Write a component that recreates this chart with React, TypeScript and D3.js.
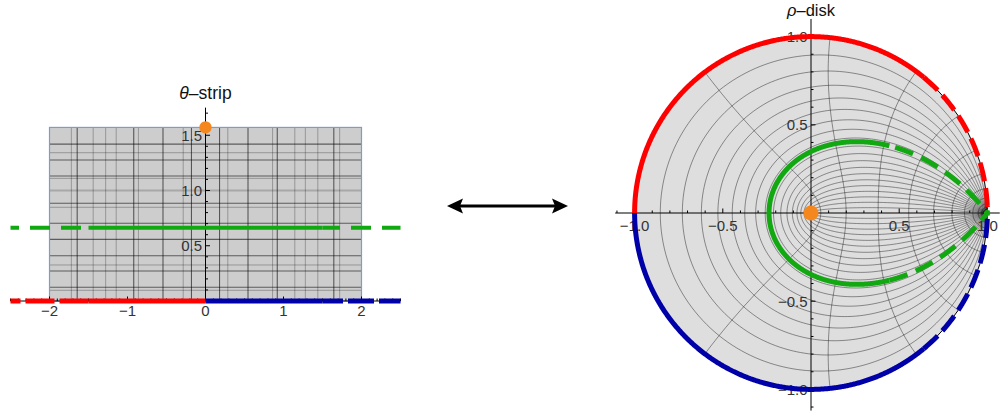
import React from "react";
import * as d3 from "d3";

// ---------- data ----------
const stripXTicks = [-2, -1, 0, 1, 2];
const stripYTicks = [0.5, 1.0, 1.5];
const diskXTicks = [-1, -0.5, 0.5, 1];
const diskYTicks = [-1, -0.5, 0.5, 1];
const stripMeshXDark = [-1.645, -0.92, -0.545, -0.18, 0.18, 0.545, 0.92, 1.645];
const stripMeshXLight = [-1.72, -1.44, -1.28, -1.145, -0.86, -0.286, 0.286, 0.86, 1.145, 1.28, 1.44, 1.72];
const stripMeshYDark = [1.42, 1.276, 1.131, 0.884, 0.703, 0.558, 0.41, 0.271, 0.124];
const stripMeshYLight = [1.342, 1.11, 0.848, 0.326, 0.097];
const stripMeshYGrid = [1.0];
const greenLevel = 0.663;
const solidHalf = 1.5;
const stripXHalfRange = 2.5;
const stripRectHalf = 2;
const diskMeshYDivisions = 40; // y = k*pi/40
const diskMeshXStep = 0.48;
const diskMeshXCount = 25;
const farX = 12;

const FONT = "'Liberation Sans', Arial, Helvetica, sans-serif";

// rho(theta) = -(1 + i sinh theta)/(1 - i sinh theta)
function rho(x: number, y: number): [number, number] {
  const wr = Math.sinh(x) * Math.cos(y);
  const wi = Math.cosh(x) * Math.sin(y);
  const a = 1 - wi, b = wr, c = 1 + wi, d = -wr;
  const den = c * c + d * d;
  const re = (a * c + b * d) / den;
  const im = (b * c - a * d) / den;
  return [-re, -im];
}

export default function App() {
  const sx = d3.scaleLinear().domain([-2, 2]).range([49.5, 361.5]);
  const sy = d3.scaleLinear().domain([0, 1]).range([301, 190.5]);
  const dx = d3.scaleLinear().domain([-1, 1]).range([634.6, 987.4]);
  const dy = d3.scaleLinear().domain([-1, 1]).range([389.4, 36.6]);

  const diskLine = d3
    .line<[number, number]>()
    .x((p) => dx(p[0]))
    .y((p) => dy(p[1]));
  const stripLine = d3
    .line<[number, number]>()
    .x((p) => sx(p[0]))
    .y((p) => sy(p[1]));

  const alongX = (x0: number, x1: number, y: number, n: number) =>
    d3.range(n + 1).map((i) => rho(x0 + ((x1 - x0) * i) / n, y));
  const alongY = (x: number, n: number) =>
    d3.range(n + 1).map((i) => rho(x, ((Math.PI / 2) * i) / n));

  const meshY = d3.range(1, diskMeshYDivisions / 2).map((k) => (k * Math.PI) / diskMeshYDivisions);
  const meshX = d3
    .range(1, diskMeshXCount + 1)
    .flatMap((k) => [k * diskMeshXStep, -k * diskMeshXStep]);

  const topY = Math.PI / 2;
  const meshStroke = "rgba(0,0,0,0.45)";

  const stripYMinor = d3.range(1, 18).map((i) => i / 10);
  const stripXMinor = d3.range(-25, 26).map((i) => i / 10);
  const diskMinor = d3.range(-11, 11).map((i) => i / 10).filter((v) => Math.abs(v) > 1e-9);

  const red = "#ff0000";
  const blue = "#0000a8";
  const green = "#12a812";
  const orange = "#f5871f";
  const tickFont = 15;

  return (
    <svg
      width={1000}
      height={414}
      style={{ position: "absolute", left: 0, top: 0, background: "#fff" }}
      fontFamily={FONT}
    >
      {/* ---------------- STRIP ---------------- */}
      <rect
        x={sx(-stripRectHalf)}
        y={sy(topY)}
        width={sx(stripRectHalf) - sx(-stripRectHalf)}
        height={sy(0) - sy(topY)}
        fill="#cdcdcd"
      />
      {stripMeshYGrid.map((v) => (
        <line key={"g" + v} x1={sx(-stripRectHalf)} x2={sx(stripRectHalf)} y1={sy(v)} y2={sy(v)} stroke="rgba(0,0,0,0.18)" strokeWidth={2.2} />
      ))}
      {stripMeshXLight.map((v) => (
        <line key={"xl" + v} x1={sx(v)} x2={sx(v)} y1={sy(0)} y2={sy(topY)} stroke="rgba(0,0,0,0.27)" strokeWidth={1} />
      ))}
      {stripMeshXDark.map((v) => (
        <line key={"xd" + v} x1={sx(v)} x2={sx(v)} y1={sy(0)} y2={sy(topY)} stroke="rgba(0,0,0,0.58)" strokeWidth={1.1} />
      ))}
      {stripMeshYLight.map((v) => (
        <line key={"yl" + v} x1={sx(-stripRectHalf)} x2={sx(stripRectHalf)} y1={sy(v)} y2={sy(v)} stroke="rgba(0,0,0,0.27)" strokeWidth={1} />
      ))}
      {stripMeshYDark.map((v) => (
        <line key={"yd" + v} x1={sx(-stripRectHalf)} x2={sx(stripRectHalf)} y1={sy(v)} y2={sy(v)} stroke="rgba(0,0,0,0.55)" strokeWidth={1.1} />
      ))}
      <rect
        x={sx(-stripRectHalf)}
        y={sy(topY)}
        width={sx(stripRectHalf) - sx(-stripRectHalf)}
        height={sy(0) - sy(topY)}
        fill="none"
        stroke="#7d9bcb"
        strokeWidth={1.2}
      />
      {/* strip axes */}
      <line x1={sx(0)} x2={sx(0)} y1={sy(0)} y2={sy(1.75)} stroke="#000" strokeWidth={1} />
      <line x1={sx(-stripXHalfRange)} x2={sx(stripXHalfRange)} y1={sy(0)} y2={sy(0)} stroke="#000" strokeWidth={1} />
      {stripYMinor.map((v) => (
        <line key={"syt" + v} x1={sx(0)} x2={sx(0) + (Math.abs(v * 2 - Math.round(v * 2)) < 1e-6 ? 4.5 : 2.5)} y1={sy(v)} y2={sy(v)} stroke="#000" strokeWidth={1} />
      ))}
      {stripXMinor.map((v) => (
        <line key={"sxt" + v} x1={sx(v)} x2={sx(v)} y1={sy(0)} y2={sy(0) - (Math.abs(v - Math.round(v)) < 1e-6 ? 4.5 : 2.5)} stroke="#000" strokeWidth={1} />
      ))}
      {stripYTicks.map((v) => (
        <text key={"syl" + v} x={sx(0) - 3.5} y={sy(v) + 5.3} fontSize={tickFont} textAnchor="end" fill="#333">
          {v.toFixed(1)}
        </text>
      ))}
      {stripXTicks.map((v) => (
        <text key={"sxl" + v} x={sx(v)} y={316} fontSize={tickFont} textAnchor="middle" fill="#333">
          {v < 0 ? "\u2212" + Math.abs(v) : String(v)}
        </text>
      ))}
      <text x={sx(0)} y={99} fontSize={17.5} textAnchor="middle" fill="#111">
        <tspan fontStyle="italic">θ</tspan>
        <tspan>{"\u2013strip"}</tspan>
      </text>

      {/* strip curves */}
      <path
        d={stripLine([[-solidHalf, greenLevel], [-stripXHalfRange, greenLevel]])!}
        fill="none" stroke={green} strokeWidth={4.2} strokeDasharray="20 11" strokeDashoffset={23.5}
      />
      <path
        d={stripLine([[solidHalf, greenLevel], [stripXHalfRange, greenLevel]])!}
        fill="none" stroke={green} strokeWidth={4.2} strokeDasharray="20 11" strokeDashoffset={2.5}
      />
      <path d={stripLine([[-solidHalf, greenLevel], [solidHalf, greenLevel]])!} fill="none" stroke={green} strokeWidth={4.2} />

      <path d={stripLine([[-solidHalf, 0], [-stripXHalfRange, 0]])!} fill="none" stroke={red} strokeWidth={5} strokeDasharray="29 5" />
      <path d={stripLine([[0, 0], [-solidHalf, 0]])!} fill="none" stroke={red} strokeWidth={5} />
      <path d={stripLine([[solidHalf, 0], [stripXHalfRange, 0]])!} fill="none" stroke={blue} strokeWidth={5} strokeDasharray="26 5" strokeDashoffset={5.5} />
      <path d={stripLine([[0, 0], [solidHalf, 0]])!} fill="none" stroke={blue} strokeWidth={5} />
      <circle cx={sx(0)} cy={sy(topY)} r={6.2} fill={orange} />

      {/* ---------------- ARROW ---------------- */}
      <line x1={460} x2={555} y1={206} y2={206} stroke="#000" strokeWidth={3} />
      <polygon points="447,206 463,198.5 460,206 463,213.5" fill="#000" />
      <polygon points="568,206 552,198.5 555,206 552,213.5" fill="#000" />

      {/* ---------------- DISK ---------------- */}
      <circle cx={dx(0)} cy={dy(0)} r={dx(1) - dx(0)} fill="#dedede" />
      {meshY.map((y) => (
        <path key={"my" + y} d={diskLine(alongX(-farX, farX, y, 1200))!} fill="none" stroke={meshStroke} strokeWidth={0.9} />
      ))}
      {meshX.map((x) => (
        <path key={"mx" + x} d={diskLine(alongY(x, 80))!} fill="none" stroke={meshStroke} strokeWidth={0.9} />
      ))}
      <circle cx={dx(0)} cy={dy(0)} r={dx(1) - dx(0)} fill="none" stroke="#000" strokeWidth={1} />
      {/* disk axes */}
      <line x1={dx(-1.11)} x2={dx(1.07)} y1={dy(0)} y2={dy(0)} stroke="#000" strokeWidth={1.2} />
      <line x1={dx(0)} x2={dx(0)} y1={dy(1.1)} y2={dy(-1.12)} stroke="#000" strokeWidth={1} />
      {diskMinor.map((v) => (
        <line key={"dxt" + v} x1={dx(v)} x2={dx(v)} y1={dy(0)} y2={dy(0) - (Math.abs(v * 2 - Math.round(v * 2)) < 1e-6 ? 4.5 : 2.5)} stroke="#000" strokeWidth={1} />
      ))}
      {diskMinor.map((v) => (
        <line key={"dyt" + v} x1={dx(0)} x2={dx(0) + (Math.abs(v * 2 - Math.round(v * 2)) < 1e-6 ? 4.5 : 2.5)} y1={dy(v)} y2={dy(v)} stroke="#000" strokeWidth={1} />
      ))}
      {diskXTicks.map((v) => (
        <text key={"dxl" + v} x={dx(v)} y={dy(0) + 18} fontSize={tickFont} textAnchor="middle" fill="#333">
          {(v < 0 ? "\u2212" : "") + Math.abs(v).toFixed(1)}
        </text>
      ))}
      {diskYTicks.map((v) => (
        <text key={"dyl" + v} x={dx(0) - 3.5} y={dy(v) + 5.3} fontSize={tickFont} textAnchor="end" fill="#333">
          {(v < 0 ? "\u2212" : "") + Math.abs(v).toFixed(1)}
        </text>
      ))}
      <text x={dx(0)} y={15.5} fontSize={16.5} textAnchor="middle" fill="#111">
        <tspan fontStyle="italic">ρ</tspan>
        <tspan>{"\u2013disk"}</tspan>
      </text>

      {/* disk curves */}
      <path d={diskLine(alongX(-solidHalf, -farX, greenLevel, 1500))!} fill="none" stroke={green} strokeWidth={5} strokeDasharray="19 9" strokeDashoffset={22} />
      <path d={diskLine(alongX(solidHalf, farX, greenLevel, 1500))!} fill="none" stroke={green} strokeWidth={5} strokeDasharray="19 9" />
      <path d={diskLine(alongX(-solidHalf, solidHalf, greenLevel, 600))!} fill="none" stroke={green} strokeWidth={5} />

      <path d={diskLine(alongX(0, -solidHalf, 0, 400))!} fill="none" stroke={red} strokeWidth={5} />
      <path d={diskLine(alongX(-solidHalf, -farX, 0, 2000))!} fill="none" stroke={red} strokeWidth={5} strokeDasharray="19 7" />
      <path d={diskLine(alongX(0, solidHalf, 0, 400))!} fill="none" stroke={blue} strokeWidth={5} />
      <path d={diskLine(alongX(solidHalf, farX, 0, 2000))!} fill="none" stroke={blue} strokeWidth={5} strokeDasharray="19 7" />
      <circle cx={dx(0)} cy={dy(0)} r={7.6} fill={orange} />
    </svg>
  );
}
